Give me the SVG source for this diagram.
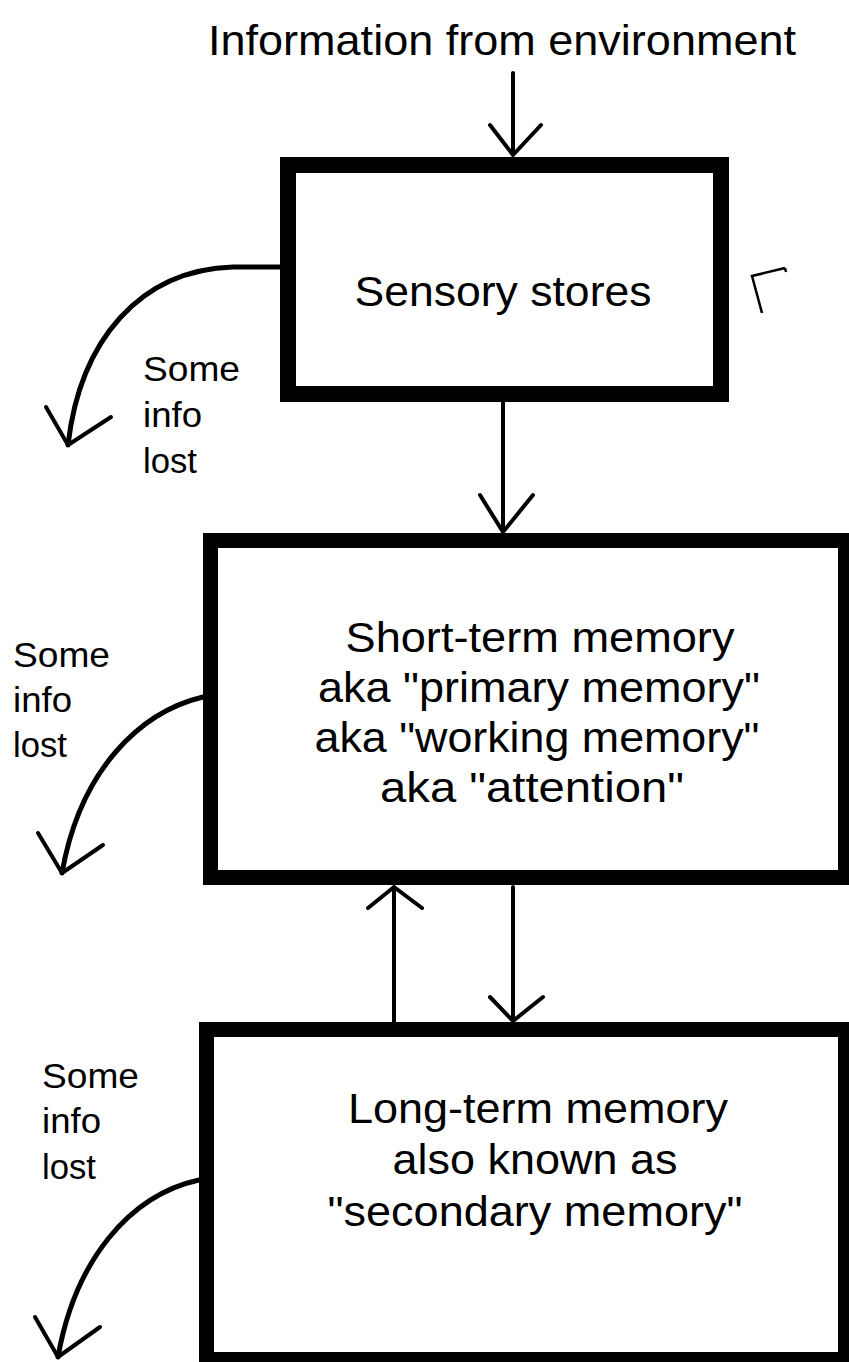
<svg xmlns="http://www.w3.org/2000/svg" width="849" height="1362" viewBox="0 0 849 1362">
<style>
.box{fill:#fff;stroke:#000;}
.t{font-family:"Liberation Sans",Arial,sans-serif;fill:#000;text-anchor:middle;}
.big{font-size:42px;}
.lbl{font-family:"Liberation Sans",Arial,sans-serif;font-size:35px;fill:#000;}
.ln{fill:none;stroke:#000;stroke-width:4;stroke-linecap:round;stroke-linejoin:round;}
.cv{fill:none;stroke:#000;stroke-width:5;stroke-linecap:round;}
</style>
<rect width="849" height="1362" fill="#fff"/>
<text class="t" x="502" y="55" font-size="43" textLength="588" lengthAdjust="spacingAndGlyphs">Information from environment</text>
<g id="sensory">
<rect class="box" x="288" y="165" width="433" height="229" stroke-width="16"/>
<text class="t big" x="503" y="306" textLength="297" lengthAdjust="spacingAndGlyphs">Sensory stores</text>
</g>
<g id="stm">
<rect class="box" x="210.5" y="540.5" width="635" height="337" stroke-width="15"/>
<text class="t big" x="540" y="652" textLength="389" lengthAdjust="spacingAndGlyphs">Short-term memory</text>
<text class="t big" x="539" y="702" textLength="442" lengthAdjust="spacingAndGlyphs">aka "primary memory"</text>
<text class="t big" x="537" y="752" textLength="445" lengthAdjust="spacingAndGlyphs">aka "working memory"</text>
<text class="t big" x="532" y="802" textLength="304" lengthAdjust="spacingAndGlyphs">aka "attention"</text>
</g>
<g id="ltm">
<rect class="box" x="206.5" y="1029.5" width="639" height="330" stroke-width="15"/>
<text class="t big" x="538" y="1123" textLength="380" lengthAdjust="spacingAndGlyphs">Long-term memory</text>
<text class="t big" x="535" y="1174" textLength="285" lengthAdjust="spacingAndGlyphs">also known as</text>
<text class="t big" x="535" y="1226" textLength="415" lengthAdjust="spacingAndGlyphs">"secondary memory"</text>
</g>
<g id="labels">
<text class="lbl" x="143" y="381" textLength="97" lengthAdjust="spacingAndGlyphs">Some</text>
<text class="lbl" x="143" y="427" textLength="59" lengthAdjust="spacingAndGlyphs">info</text>
<text class="lbl" x="143" y="473" textLength="54" lengthAdjust="spacingAndGlyphs">lost</text>
<text class="lbl" x="13" y="667" textLength="97" lengthAdjust="spacingAndGlyphs">Some</text>
<text class="lbl" x="13" y="712" textLength="59" lengthAdjust="spacingAndGlyphs">info</text>
<text class="lbl" x="13" y="757" textLength="54" lengthAdjust="spacingAndGlyphs">lost</text>
<text class="lbl" x="42" y="1088" textLength="97" lengthAdjust="spacingAndGlyphs">Some</text>
<text class="lbl" x="42" y="1133" textLength="59" lengthAdjust="spacingAndGlyphs">info</text>
<text class="lbl" x="42" y="1179" textLength="54" lengthAdjust="spacingAndGlyphs">lost</text>
</g>
<g id="connectors">
<path class="ln" d="M513 73 L513 155 M490 125 L513 155 L541 125"/>
<path class="ln" d="M503 402 L503 532 M480 495 L503 532 L533 495"/>
<path class="ln" d="M394 1022 L394 887 M368 908 L394 887 L422 908"/>
<path class="ln" d="M513 887 L513 1021 M490 997 L513 1021 L543 997"/>
<path class="cv" d="M280 267 L233 267 C140 270 80 340 68 445"/>
<path class="ln" d="M46 407 L68 445 L111 417"/>
<path class="cv" d="M203 697 C140 712 80 770 62 873"/>
<path class="ln" d="M38 833 L62 873 L103 845"/>
<path class="cv" d="M199 1180 C130 1195 75 1260 58 1357"/>
<path class="ln" d="M35 1317 L58 1357 L100 1327"/>
</g>
<path fill="none" stroke="#000" stroke-width="2.5" d="M785 268 L752 276 L762 313 M785 268 L786 272"/>
</svg>
